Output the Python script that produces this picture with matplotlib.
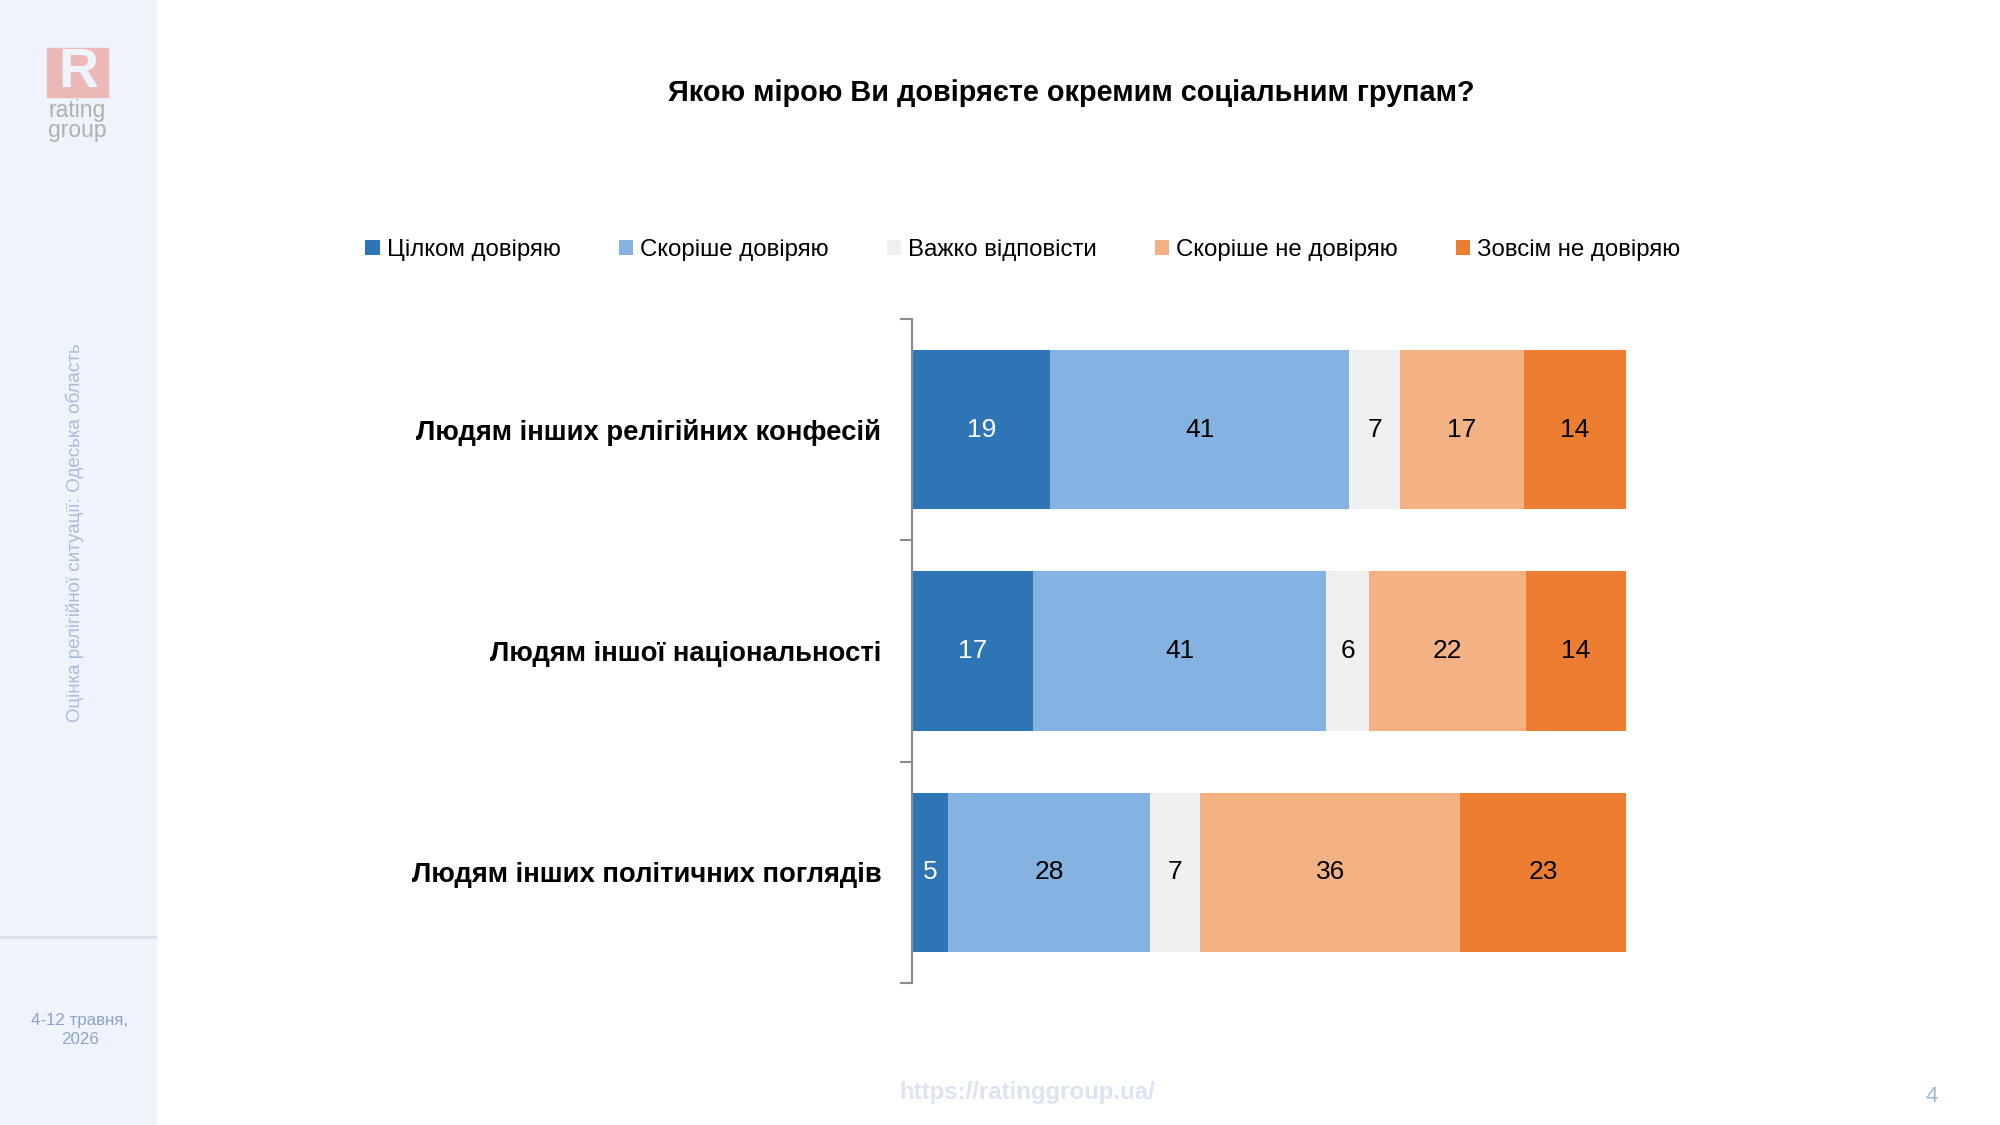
"""Trust in social groups — 100% stacked horizontal bars (Rating Group slide)."""

import matplotlib
matplotlib.use("Agg")
import matplotlib.pyplot as plt  # noqa: E402
from matplotlib.patches import Rectangle  # noqa: E402
import numpy as np  # noqa: E402

SANS = ["Liberation Sans", "DejaVu Sans"]

title = "Якою мірою Ви довіряєте окремим соціальним групам?"
categories = [
    "Людям інших релігійних конфесій",
    "Людям іншої національності",
    "Людям інших політичних поглядів",
]
series_names = [
    "Цілком довіряю",
    "Скоріше довіряю",
    "Важко відповісти",
    "Скоріше не довіряю",
    "Зовсім не довіряю",
]
# one list per answer, in category order
full_trust = [19, 17, 5]
rather_trust = [41, 41, 28]
hard_to_say = [7, 6, 7]
rather_distrust = [17, 22, 36]
full_distrust = [14, 14, 23]

colors = ["#2E75B6", "#85B3E1", "#F0F0F0", "#F4B183", "#ED7D31"]
label_colors = ["white", "black", "black", "black", "black"]

values = np.array([full_trust, rather_trust, hard_to_say, rather_distrust, full_distrust], dtype=float)
shares = values / values.sum(axis=0) * 100  # bars fill 100%

fig = plt.figure(figsize=(20, 11.25), dpi=100)
fig.patch.set_facecolor("white")

# left sidebar
side = fig.add_axes([0, 0, 157 / 2000, 1])
side.set_xlim(0, 157)
side.set_ylim(1125, 0)
side.axis("off")
side.add_patch(Rectangle((0, 0), 157, 1125, color="#EFF3FC", zorder=0))
side.plot([0, 157], [937, 937], color="#D9DFEA", lw=2)
side.add_patch(Rectangle((47, 48), 61, 49, color="#EDB8B8", zorder=1))
side.text(78, 73, "R", color="#EFF3FC", fontsize=40, fontweight="bold",
          ha="center", va="center", family=SANS, zorder=2)
side.text(77, 111, "rating", color="#B0B0B0", fontsize=16.5, ha="center", va="center", family=SANS)
side.text(77, 131, "group", color="#B0B0B0", fontsize=16.5, ha="center", va="center", family=SANS)
side.text(75, 533, "Оцінка релігійної ситуації: Одеська область", color="#A9BCD8",
          fontsize=13.5, rotation=90, ha="center", va="center", family=SANS)
side.text(80, 1030, "4-12 травня,\n2026", color="#8EA4C4", fontsize=12.2,
          ha="center", va="center", linespacing=1.25, family=SANS)

fig.text(1071 / 2000, 1 - 93 / 1125, title, fontsize=20.8, fontweight="bold",
         ha="center", va="center", family=SANS)

ax = fig.add_axes([912 / 2000, 1 - 983 / 1125, (1626 - 912) / 2000, (983 - 319) / 1125])
y = np.arange(len(categories))[::-1]
left = np.zeros(len(categories))
handles = []
for i, name in enumerate(series_names):
    bars = ax.barh(y, shares[i], left=left, height=0.72, color=colors[i], label=name)
    handles.append(bars)
    for j, b in enumerate(bars):
        ax.text(left[j] + shares[i][j] / 2, y[j], f"{int(values[i][j])}",
                ha="center", va="center", fontsize=19, color=label_colors[i], family=SANS)
    left += shares[i]

ax.set_xlim(0, 100)
ax.set_ylim(-0.5, len(categories) - 0.5)
for s in ["top", "right", "bottom"]:
    ax.spines[s].set_visible(False)
ax.spines["left"].set_color("#8C8C8C")
ax.spines["left"].set_linewidth(1.5)
ax.set_xticks([])
ax.set_yticks(np.arange(len(categories) + 1) - 0.5)
ax.set_yticklabels([])
ax.tick_params(axis="y", length=9, width=1.5, color="#8C8C8C")
ax.set_yticks(y, minor=True)
ax.set_yticklabels(categories, minor=True, fontsize=19.8, fontweight="bold", family=SANS)
ax.tick_params(axis="y", which="minor", length=0, pad=22)

leg = fig.legend(handles=handles, labels=series_names, loc="center",
                 bbox_to_anchor=(1023 / 2000, 1 - 250 / 1125), ncol=5, frameon=False,
                 prop={"family": SANS, "size": 17.3}, handlelength=0.6, handleheight=0.6,
                 handletextpad=0.3, columnspacing=2.4)

fig.text(1027 / 2000, 1 - 1092 / 1125, "https://ratinggroup.ua/", color="#DDE4F1",
         fontsize=17.3, fontweight="bold", ha="center", va="center", family=SANS)
fig.text(1932 / 2000, 1 - 1097 / 1125, "4", color="#9DB7D5", fontsize=16,
         ha="center", va="center", family=SANS)

fig.savefig("out.png", dpi=100)
